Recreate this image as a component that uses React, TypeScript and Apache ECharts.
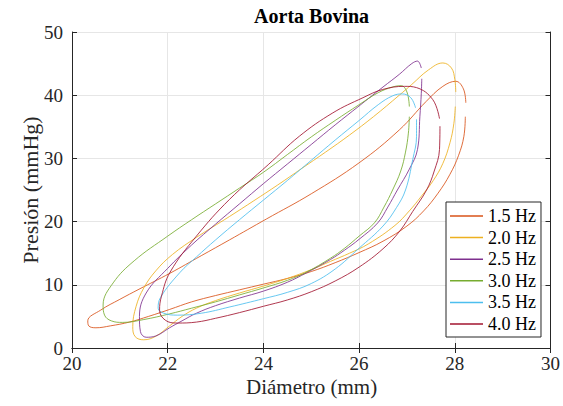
import React, { useEffect, useRef } from "react";
import * as echarts from "echarts";

const seriesNames = ["1.5 Hz", "2.0 Hz", "2.5 Hz", "3.0 Hz", "3.5 Hz", "4.0 Hz"];
const seriesColors = ["#D95319", "#EDB120", "#7E2F8E", "#77AC30", "#4DBEEE", "#A2142F"];
const xRange = [20, 30, 2];
const yRange = [0, 50, 10];
const titleText = "Aorta Bovina";
const xTitle = "Diámetro (mm)";
const yTitle = "Presión (mmHg)";

const hz15 = [
  [28.22, 36.6], [28.19, 33.5], [28.08, 30.5], [27.9, 27.5], [27.65, 24.5], [27.35, 21.7],
  [27.0, 19.3], [26.5, 16.9], [26.0, 15.1], [25.5, 13.5], [25.0, 12.1], [24.5, 11.0],
  [24.0, 10.1], [23.5, 9.2], [23.0, 8.3], [22.5, 7.3], [22.04, 6.1], [21.6, 5.0],
  [21.2, 4.1], [20.8, 3.5], [20.5, 3.2], [20.35, 3.5], [20.33, 4.3], [20.6, 6.0],
  [21.0, 7.7], [21.4, 9.3], [22.04, 11.8], [22.7, 14.6], [23.29, 17.1], [24.06, 20.4],
  [25.0, 24.4], [26.0, 29.3], [26.84, 34.5], [27.4, 39.0], [27.75, 41.4], [28.02, 42.2],
  [28.18, 41.0], [28.23, 38.8],
];
const hz20 = [
  [28.01, 38.2], [27.98, 35.5], [27.9, 32.5], [27.75, 29.2], [27.55, 26.5], [27.3, 24.0],
  [27.05, 21.7], [26.75, 19.4], [26.2, 16.5], [25.8, 15.0], [25.4, 13.7], [25.0, 12.4],
  [24.5, 11.0], [24.0, 9.8], [23.5, 8.7], [23.0, 7.5], [22.6, 6.3], [22.3, 5.0],
  [22.04, 3.5], [21.76, 1.9], [21.5, 1.3], [21.32, 1.8], [21.27, 3.4], [21.34, 6.6],
  [21.5, 9.5], [21.75, 12.2], [22.1, 14.8], [22.6, 17.5], [23.29, 20.8], [23.8, 23.3],
  [24.3, 25.8], [24.8, 28.4], [25.3, 31.0], [25.8, 33.7], [26.3, 36.6], [26.84, 40.0],
  [27.1, 41.7], [27.45, 44.0], [27.75, 45.1], [27.93, 44.3], [28.0, 42.5], [28.02, 40.5],
];
const hz25 = [
  [27.31, 42.6], [27.3, 40.3], [27.27, 36.6], [27.22, 31.4], [27.05, 28.3], [26.8, 25.0],
  [26.6, 22.3], [26.39, 19.8], [26.0, 17.2], [25.7, 15.5], [25.4, 14.0], [24.9, 11.9],
  [24.5, 10.4], [24.0, 9.0], [23.5, 7.9], [23.0, 6.7], [22.6, 5.5], [22.3, 4.3],
  [22.04, 3.2], [21.75, 1.9], [21.55, 1.7], [21.43, 2.6], [21.41, 5.0], [21.55, 8.7],
  [22.0, 12.6], [22.5, 16.3], [23.0, 19.6], [23.5, 22.8], [24.0, 26.0], [24.5, 29.1],
  [25.0, 32.2], [25.5, 35.3], [26.0, 38.3], [26.5, 41.3], [26.84, 43.3], [27.1, 45.0],
  [27.22, 45.4], [27.3, 44.3],
];
const hz30 = [
  [27.05, 36.6], [27.03, 34.0], [26.97, 31.0], [26.87, 28.0], [26.7, 25.0], [26.52, 22.3],
  [26.32, 19.8], [26.0, 17.7], [25.7, 15.8], [25.4, 14.2], [24.9, 12.0], [24.5, 10.7],
  [24.0, 9.5], [23.5, 8.4], [23.0, 7.3], [22.5, 6.3], [22.04, 5.4], [21.5, 4.5],
  [21.06, 4.05], [20.82, 4.3], [20.68, 5.2], [20.65, 6.8], [20.86, 10.3], [21.3, 13.8],
  [22.0, 17.7], [22.5, 20.3], [23.0, 22.8], [23.5, 25.3], [24.0, 27.8], [24.5, 30.6],
  [25.0, 33.4], [25.5, 36.0], [26.0, 38.5], [26.4, 40.4], [26.7, 41.3], [26.88, 41.5],
  [27.0, 40.5], [27.05, 38.2],
];
const hz35 = [
  [27.2, 36.2], [27.2, 33.5], [27.12, 29.8], [26.97, 25.0], [26.78, 22.2], [26.5, 19.3],
  [26.0, 15.8], [25.5, 12.5], [25.0, 10.2], [24.5, 8.8], [24.0, 7.8], [23.3, 6.5],
  [22.7, 5.5], [22.2, 5.2], [21.92, 5.5], [21.8, 6.3], [21.85, 8.0], [22.25, 11.9],
  [22.6, 14.4], [23.0, 17.1], [23.5, 20.3], [24.0, 23.4], [24.5, 26.5], [25.0, 29.7],
  [25.5, 32.9], [26.0, 36.0], [26.4, 38.5], [26.7, 39.9], [26.9, 40.2], [27.08, 39.6],
  [27.18, 38.0],
];
const hz40 = [
  [27.69, 35.1], [27.68, 31.4], [27.57, 28.0], [27.41, 25.0], [27.12, 21.6], [26.85, 18.5],
  [26.5, 15.7], [26.0, 12.8], [25.5, 10.6], [25.0, 8.9], [24.5, 7.6], [24.0, 6.6],
  [23.5, 5.6], [23.0, 4.7], [22.6, 4.1], [22.2, 3.95], [21.95, 4.4], [21.83, 6.0],
  [21.87, 8.2], [22.05, 12.0], [22.6, 17.7], [23.29, 23.5], [24.1, 29.0], [24.75, 33.5],
  [25.45, 37.2], [26.08, 39.6], [26.49, 40.9], [26.95, 41.4], [27.2, 41.2], [27.54, 39.3],
  [27.68, 36.3],
];
const seriesData = [hz15, hz20, hz25, hz30, hz35, hz40];

const FONT = '"Liberation Serif", "Times New Roman", serif';
const AX = "#262626";

export default function App() {
  const ref = useRef<HTMLDivElement>(null);
  useEffect(() => {
    if (!ref.current) return;
    const chart = echarts.init(ref.current, null, { renderer: "svg" });
    const baseAxis = (min: number, max: number, interval: number) => ({
      type: "value" as const,
      min,
      max,
      interval,
      axisLine: { show: true, lineStyle: { color: AX, width: 1 } },
      axisTick: { show: true, inside: true, length: 5, lineStyle: { color: AX, width: 1 } },
    });
    chart.setOption({
      animation: false,
      backgroundColor: "#ffffff",
      grid: { left: 72, right: 12, top: 32, bottom: 58, containLabel: false },
      xAxis: [
        {
          ...baseAxis(xRange[0], xRange[1], xRange[2]),
          position: "bottom",
          axisLabel: { color: AX, fontFamily: FONT, fontSize: 19, lineHeight: 19, margin: 6 },
          splitLine: { show: true, lineStyle: { color: "#e6e6e6", width: 1 } },
        },
        {
          ...baseAxis(xRange[0], xRange[1], xRange[2]),
          position: "top",
          axisLabel: { show: false },
          splitLine: { show: false },
        },
      ],
      yAxis: [
        {
          ...baseAxis(yRange[0], yRange[1], yRange[2]),
          position: "left",
          axisLabel: { color: AX, fontFamily: FONT, fontSize: 19, margin: 9 },
          splitLine: { show: true, lineStyle: { color: "#e6e6e6", width: 1 } },
        },
        {
          ...baseAxis(yRange[0], yRange[1], yRange[2]),
          position: "right",
          axisLabel: { show: false },
          splitLine: { show: false },
        },
      ],
      legend: {
        orient: "vertical",
        left: 446,
        top: 202,
        icon: "rect",
        itemWidth: 33,
        itemHeight: 1.5,
        itemGap: 3.6,
        padding: [5, 5, 4, 4],
        backgroundColor: "#ffffff",
        borderColor: AX,
        borderWidth: 1,
        borderRadius: 0,
        textStyle: { fontFamily: FONT, fontSize: 18, color: "#000", lineHeight: 18 },
        data: seriesNames,
      },
      graphic: [
        {
          type: "text",
          x: 311.6,
          y: 16,
          style: { text: titleText, font: `bold 20px ${FONT}`, fill: "#000", align: "center", verticalAlign: "middle" },
        },
        {
          type: "text",
          x: 311.6,
          y: 387,
          style: { text: xTitle, font: `21px ${FONT}`, fill: AX, align: "center", verticalAlign: "middle" },
        },
        {
          type: "text",
          x: 30,
          y: 190,
          rotation: Math.PI / 2,
          style: { text: yTitle, font: `22px ${FONT}`, fill: AX, align: "center", verticalAlign: "middle" },
        },
      ],
      series: seriesNames.map((name, i) => ({
        name,
        type: "line",
        xAxisIndex: 0,
        yAxisIndex: 0,
        data: seriesData[i],
        showSymbol: false,
        symbol: "none",
        smooth: 0.4,
        color: seriesColors[i],
        lineStyle: { width: 0.85, color: seriesColors[i] },
        emphasis: { disabled: true },
      })),
    });
    return () => chart.dispose();
  }, []);
  return (
    <div
      ref={ref}
      style={{ position: "fixed", left: 0, top: 0, width: 563, height: 406 }}
    />
  );
}
